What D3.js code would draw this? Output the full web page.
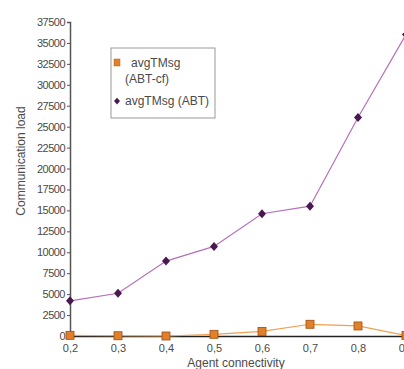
<!DOCTYPE html>
<html><head><meta charset="utf-8">
<script src="https://cdn.jsdelivr.net/npm/d3@7"></script>
<style>body{margin:0;background:#fff}svg{display:block;font-family:"Liberation Sans",Arial,sans-serif}</style>
</head><body><svg id="c" width="404" height="369"></svg>
<script>
const connectivity = [0.2, 0.3, 0.4, 0.5, 0.6, 0.7, 0.8, 0.9];
const abtCf = [80, 30, 0, 200, 550, 1400, 1200, 50];
const abt = [4200, 5100, 8950, 10700, 14600, 15500, 26100, 36000];
const yTicks = [0,2500,5000,7500,10000,12500,15000,17500,20000,22500,25000,27500,30000,32500,35000,37500];
const seriesNames = ["avgTMsg\n(ABT-cf)", "avgTMsg (ABT)"];

const svg = d3.select("#c");
const x = d3.scaleLinear().domain([0.2, 0.9]).range([70, 406]);
const y = d3.scaleLinear().domain([0, 37500]).range([336, 22]);
const txt = "#4a4a4a";

const ya = svg.append("g").attr("transform","translate(70,0)")
  .call(d3.axisLeft(y).tickValues(yTicks).tickSize(3).tickFormat(d=>d));
ya.select(".domain").attr("stroke","#555").attr("stroke-width",1.5);
ya.selectAll(".tick line").attr("stroke","#555");
ya.selectAll("text").attr("fill",txt).style("font-size","11px").attr("dx","1").attr("letter-spacing","-0.5");

const xa = svg.append("g").attr("transform","translate(0,336)")
  .call(d3.axisBottom(x).tickValues(connectivity).tickSize(0).tickPadding(8)
    .tickFormat(d=>d3.format(".1f")(d).replace(".",",")));
xa.select(".domain").attr("stroke","#222").attr("stroke-width",1.5);
xa.selectAll("text").attr("fill",txt).style("font-size","11px");

svg.append("text").attr("transform","translate(25,161) rotate(-90)").attr("text-anchor","middle")
  .attr("fill",txt).style("font-size","12px").text("Communication load");
svg.append("text").attr("x",236).attr("y",367).attr("text-anchor","middle")
  .attr("fill",txt).style("font-size","12px").text("Agent connectivity");

const line = d3.line().x((d,i)=>x(connectivity[i])).y(d=>y(d));
const diamond = "M0,-4.5L4,0L0,4.5L-4,0Z";

svg.append("path").datum(abt).attr("d",line).attr("fill","none").attr("stroke","#b670b8").attr("stroke-width",1.2);
svg.selectAll(".dm").data(abt).join("path").attr("class","dm")
  .attr("transform",(d,i)=>`translate(${x(connectivity[i])},${y(d)})`)
  .attr("d",diamond).attr("fill","#4a1850");

svg.append("path").datum(abtCf).attr("d",line).attr("fill","none").attr("stroke","#f0a050").attr("stroke-width",1.2);
svg.selectAll(".sq").data(abtCf).join("rect").attr("class","sq")
  .attr("x",(d,i)=>x(connectivity[i])-4).attr("y",d=>y(d)-4).attr("width",8).attr("height",8)
  .attr("fill","#e0802a").attr("stroke","#a04c10").attr("stroke-width",0.8);

const lg = svg.append("g");
lg.append("rect").attr("x",111).attr("y",48).attr("width",104).attr("height",70)
  .attr("fill","#fff").attr("stroke","#999").attr("stroke-width",1);
lg.append("rect").attr("x",114).attr("y",59).attr("width",6).attr("height",7).attr("fill","#e0802a").attr("stroke","#c06010").attr("stroke-width",0.5);
lg.append("path").attr("transform","translate(117,101) scale(0.75)").attr("d",diamond).attr("fill","#4a1850");
const l1 = seriesNames[0].split("\n");
lg.append("text").attr("x",131).attr("y",67).attr("fill",txt).style("font-size","12px").text(l1[0]);
lg.append("text").attr("x",125).attr("y",83).attr("fill",txt).style("font-size","12px").text(l1[1]);
lg.append("text").attr("x",125).attr("y",105).attr("fill",txt).style("font-size","12px").text(seriesNames[1]);
</script></body></html>
